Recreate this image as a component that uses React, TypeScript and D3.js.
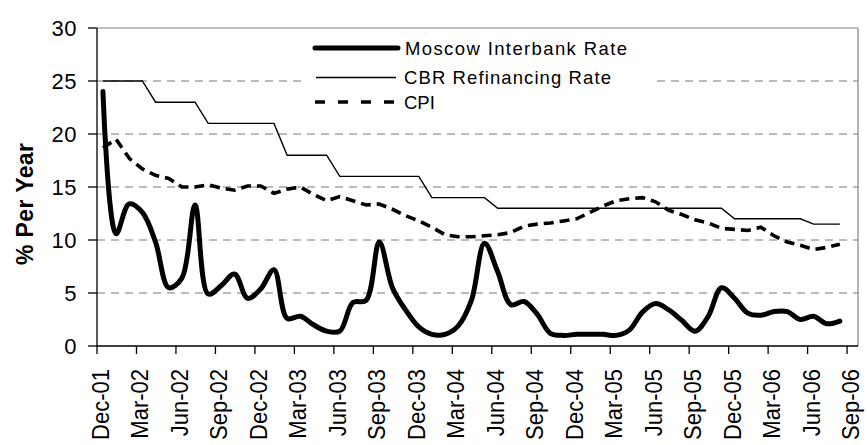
import React from "react";
import * as d3 from "d3";

// Months since Dec-01 (data points plotted mid-month)
const interbank = [
  24.0, 10.6, 13.4, 12.6, 9.8, 5.5, 6.4, 13.3, 4.9, 5.7, 6.8, 4.5,
  5.4, 7.2, 2.6, 2.8, 2.0, 1.4, 1.4, 4.1, 4.3, 9.8, 5.5, 3.4,
  1.8, 1.1, 1.1, 1.9, 4.3, 9.7, 7.0, 3.9, 4.2, 3.0, 1.2, 1.0,
  1.1, 1.1, 1.1, 1.0, 1.5, 3.2, 4.0, 3.4, 2.4, 1.4, 2.8, 5.5,
  4.5, 3.1, 2.9, 3.25, 3.25, 2.5, 2.8, 2.1, 2.35,
];
const cbrRate = [
  25, 25, 25, 25, 23, 23, 23, 23, 21, 21, 21, 21,
  21, 21, 18, 18, 18, 18, 16, 16, 16, 16, 16, 16,
  16, 14, 14, 14, 14, 14, 13, 13, 13, 13, 13, 13,
  13, 13, 13, 13, 13, 13, 13, 13, 13, 13, 13, 13,
  12, 12, 12, 12, 12, 12, 11.5, 11.5, 11.5,
];
const cpi = [
  18.7, 19.5, 17.7, 16.7, 16.1, 15.8, 15.0, 15.0, 15.2, 14.9, 14.7, 15.1,
  15.1, 14.4, 14.8, 15.0, 14.3, 13.7, 14.1, 13.7, 13.3, 13.4, 12.9, 12.3,
  11.8, 11.2, 10.5, 10.3, 10.3, 10.4, 10.5, 10.7, 11.3, 11.5, 11.6, 11.8,
  12.0, 12.6, 13.2, 13.7, 13.9, 14.0, 13.6, 12.8, 12.4, 11.9, 11.6, 11.1,
  11.0, 10.9, 11.2, 10.4, 9.8, 9.5, 9.1, 9.3, 9.6,
];
const xTickLabels = [
  "Dec-01", "Mar-02", "Jun-02", "Sep-02", "Dec-02", "Mar-03", "Jun-03",
  "Sep-03", "Dec-03", "Mar-04", "Jun-04", "Sep-04", "Dec-04", "Mar-05",
  "Jun-05", "Sep-05", "Dec-05", "Mar-06", "Jun-06", "Sep-06",
];
const yTicks = [0, 5, 10, 15, 20, 25, 30];
const legendLabels = ["Moscow  Interbank Rate", "CBR Refinancing Rate", "CPI"];
const yTitle = "% Per Year";

const FONT = "'Liberation Sans', Arial, sans-serif";

export default function App() {
  const left = 97, right = 858, top = 28, bottom = 346;
  const x = d3.scaleLinear().domain([0, 57.83]).range([left, right]);
  const y = d3.scaleLinear().domain([0, 30]).range([bottom, top]);
  const off = 0.45;

  const smooth = d3
    .line<number>()
    .x((_, i) => x(i + off))
    .y((d) => y(d))
    .curve(d3.curveCatmullRom.alpha(0.5));
  const straight = d3
    .line<number>()
    .x((_, i) => x(i + off))
    .y((d) => y(d));

  return (
    <svg
      width={867}
      height={445}
      style={{ position: "absolute", left: 0, top: 0, background: "#fff" }}
      fontFamily={FONT}
    >
      <rect x={0} y={0} width={867} height={445} fill="#fff" />
      {/* gridlines */}
      {yTicks
        .filter((t) => t > 0 && t < 30)
        .map((t) => (
          <line
            key={t}
            x1={left}
            x2={right}
            y1={y(t)}
            y2={y(t)}
            stroke="#777"
            strokeWidth={1}
            strokeDasharray="8,6"
          />
        ))}
      {/* plot border top/right */}
      <line x1={left} x2={right} y1={top} y2={top} stroke="#808080" strokeWidth={1.2} />
      <line x1={right} x2={right} y1={top} y2={bottom} stroke="#808080" strokeWidth={1.2} />

      {/* legend background */}
      <rect x={306} y={34} width={350} height={78} fill="#fff" />

      {/* series */}
      <path d={straight(cbrRate) || ""} fill="none" stroke="#000" strokeWidth={1.4} />
      <path
        d={straight(cpi) || ""}
        fill="none"
        stroke="#000"
        strokeWidth={3.6}
        strokeDasharray="10,6"
      />
      <path
        d={smooth(interbank) || ""}
        fill="none"
        stroke="#000"
        strokeWidth={5}
        strokeLinejoin="round"
        strokeLinecap="round"
      />

      {/* axes */}
      <line x1={left} x2={left} y1={top} y2={bottom} stroke="#000" strokeWidth={1.3} />
      <line x1={left} x2={right} y1={bottom} y2={bottom} stroke="#000" strokeWidth={1.3} />
      {yTicks.map((t) => (
        <g key={t}>
          <line x1={88} x2={left} y1={y(t)} y2={y(t)} stroke="#000" strokeWidth={1.3} />
          <text
            x={77}
            y={y(t)}
            dy="0.36em"
            textAnchor="end"
            fontSize={22}
            letterSpacing={0.5}
            fill="#000"
          >
            {t}
          </text>
        </g>
      ))}
      {xTickLabels.map((lab, k) => {
        const tx = x(k * 3);
        return (
          <g key={lab}>
            <line x1={tx} x2={tx} y1={bottom} y2={354} stroke="#000" strokeWidth={1.3} />
            <g transform={`translate(${tx + 12},369) scale(1.12,1) rotate(-90)`}>
              <text x={0} y={0} textAnchor="end" fontSize={22} fill="#000">
                {lab}
              </text>
            </g>
          </g>
        );
      })}

      {/* y axis title */}
      <text
        transform={`translate(33,204) rotate(-90)`}
        textAnchor="middle"
        fontSize={23}
        fontWeight="bold"
        textLength={122}
        lengthAdjust="spacing"
        fill="#000"
      >
        {yTitle}
      </text>

      {/* legend */}
      <line x1={315} x2={398} y1={48} y2={48} stroke="#000" strokeWidth={5} strokeLinecap="round" />
      <line x1={316} x2={396} y1={77.5} y2={77.5} stroke="#000" strokeWidth={1.4} />
      <line
        x1={315}
        x2={396}
        y1={102}
        y2={102}
        stroke="#000"
        strokeWidth={3.6}
        strokeDasharray="10,13"
      />
      <text x={405} y={48} dy="0.36em" fontSize={18.5} textLength={222} lengthAdjust="spacing">
        {legendLabels[0]}
      </text>
      <text x={404} y={77} dy="0.36em" fontSize={18.5} textLength={207} lengthAdjust="spacing">
        {legendLabels[1]}
      </text>
      <text x={404} y={102} dy="0.36em" fontSize={18.5}>
        {legendLabels[2]}
      </text>
    </svg>
  );
}
